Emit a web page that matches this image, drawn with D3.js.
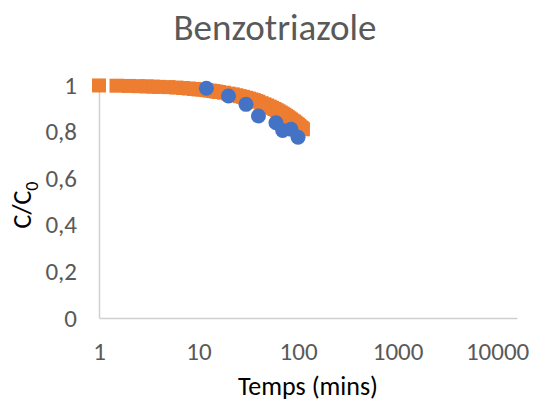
<!DOCTYPE html>
<html>
<head>
<meta charset="utf-8">
<script src="https://cdn.jsdelivr.net/npm/d3@7"></script>
<style>
  body { margin: 0; background: #fff; }
  svg text { font-family: Calibri, Carlito, Lato, sans-serif; }
</style>
</head>
<body>
<div id="graph"></div>
<script>
// modele (carres orange)
const modelTimes = [1, 1.5, 2, 2.5, 3, 3.5, 4, 5, 6, 7, 8, 9, 10, 11, 12, 13, 14, 15, 16, 18, 20,
  22, 24, 26, 28, 30, 32, 34, 36, 38, 40, 43, 46, 49, 52, 55, 58, 61, 64, 67, 70, 73, 76,
  79, 82, 85, 88, 91, 94, 97, 100, 103, 106, 109, 112];
const modelValues = [0.998, 0.997, 0.996, 0.995, 0.994, 0.993, 0.992, 0.991, 0.989, 0.987, 0.985,
  0.983, 0.981, 0.980, 0.978, 0.976, 0.974, 0.972, 0.970, 0.967, 0.963, 0.960, 0.956, 0.952,
  0.949, 0.945, 0.942, 0.938, 0.935, 0.931, 0.928, 0.922, 0.917, 0.912, 0.907, 0.902, 0.897,
  0.892, 0.887, 0.882, 0.877, 0.872, 0.867, 0.862, 0.857, 0.852, 0.847, 0.843, 0.838, 0.833,
  0.829, 0.824, 0.819, 0.815, 0.810];

// mesures (points bleus)
const expTimes = [12, 20, 30, 40, 60, 70, 85, 100];
const expValues = [0.986, 0.953, 0.917, 0.867, 0.838, 0.805, 0.810, 0.776];

const xTicks = [1, 10, 100, 1000, 10000];
const yTicks = [0, 0.2, 0.4, 0.6, 0.8, 1];

const width = 535, height = 403;
const textColor = "#595959";

const svg = d3.select("#graph")
  .append("svg")
  .attr("width", width)
  .attr("height", height);

const x = d3.scaleLog()
  .domain([1, 15850])
  .range([99, 517]);

const y = d3.scaleLinear()
  .domain([0, 1])
  .range([318, 85]);

const fmtY = d => (d === 0 || d === 1) ? String(d) : d.toFixed(1).replace(".", ",");

const gx = svg.append("g")
  .attr("transform", `translate(0, ${y(0)})`)
  .call(d3.axisBottom(x).tickValues(xTicks).tickFormat(d3.format("d")).tickSize(0));
gx.select(".domain").attr("stroke", "#d0d0d0").attr("stroke-width", 1.5);
gx.selectAll("text")
  .attr("y", 42)
  .attr("dy", 0)
  .attr("fill", textColor)
  .style("font-size", "25px");

const gy = svg.append("g")
  .attr("transform", `translate(${x(1)}, 0)`)
  .call(d3.axisLeft(y).tickValues(yTicks).tickFormat(fmtY).tickSize(0).tickPadding(22));
gy.select(".domain").attr("stroke", "#d0d0d0").attr("stroke-width", 1.5);
gy.selectAll("text").attr("fill", textColor).style("font-size", "25px");

// carres du modele
svg.append("g")
  .selectAll("rect")
  .data(modelTimes)
  .enter()
  .append("rect")
  .attr("x", (d, i) => x(d) - 7)
  .attr("y", (d, i) => y(modelValues[i]) - 7)
  .attr("width", 14)
  .attr("height", 14)
  .attr("fill", "#ED7D31");

// points experimentaux
svg.append("g")
  .selectAll("circle")
  .data(expTimes)
  .enter()
  .append("circle")
  .attr("cx", d => x(d))
  .attr("cy", (d, i) => y(expValues[i]))
  .attr("r", 7.5)
  .attr("fill", "#4472C4");

// titres
svg.append("text")
  .attr("x", 275)
  .attr("y", 40)
  .attr("text-anchor", "middle")
  .attr("fill", textColor)
  .style("font-size", "37px")
  .text("Benzotriazole");

svg.append("text")
  .attr("x", 308)
  .attr("y", 395)
  .attr("text-anchor", "middle")
  .attr("fill", "#000")
  .style("font-size", "26px")
  .text("Temps (mins)");

const yt = svg.append("text")
  .attr("transform", "translate(31, 205) rotate(-90)")
  .attr("text-anchor", "middle")
  .attr("fill", "#000")
  .style("font-size", "26px");
yt.append("tspan").text("C/C");
yt.append("tspan").attr("dy", 7).style("font-size", "18px").text("0");
</script>
</body>
</html>
